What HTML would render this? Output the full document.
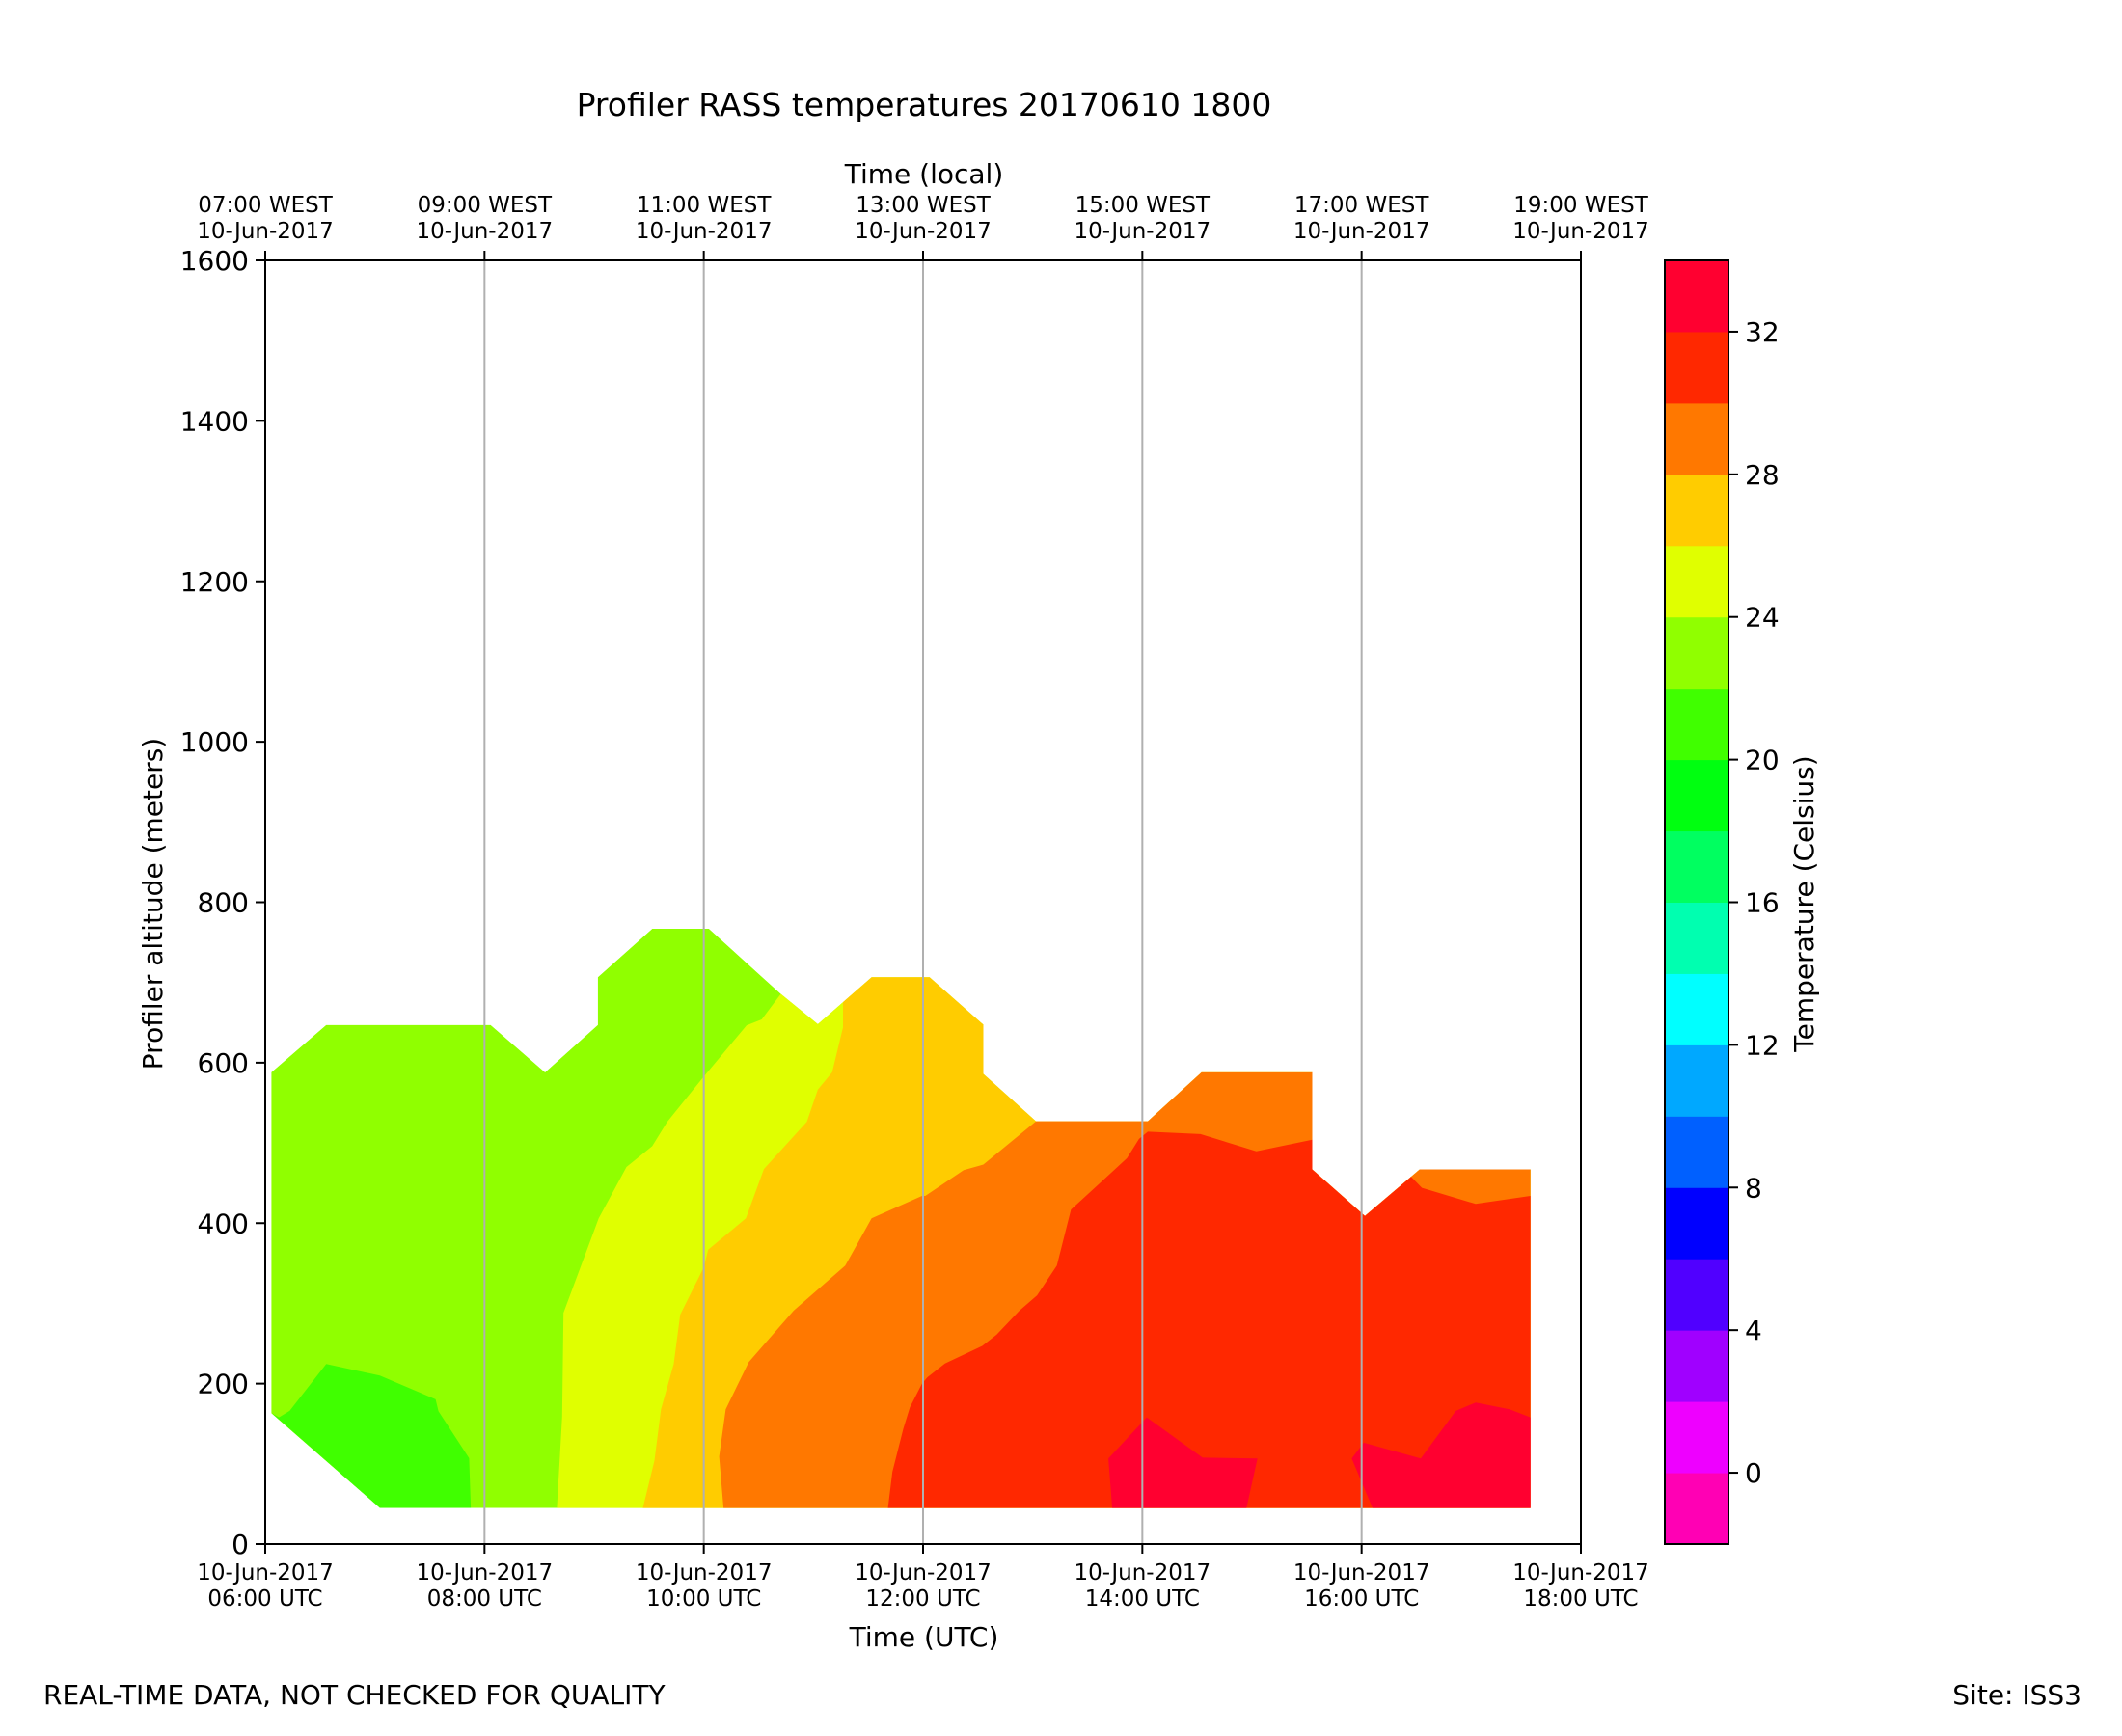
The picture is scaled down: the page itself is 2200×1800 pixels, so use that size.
<!DOCTYPE html>
<html><head><meta charset="utf-8">
<style>
html,body{margin:0;padding:0;background:#fff;}
svg{display:block;font-family:"DejaVu Sans","Liberation Sans",sans-serif;}
</style></head>
<body>
<svg id="chart" width="2200" height="1800" viewBox="0 0 2200 1800" xmlns="http://www.w3.org/2000/svg">
<rect width="2200" height="1800" fill="#fff"/>
<text x="958" y="120" font-size="33" text-anchor="middle">Profiler RASS temperatures 20170610 1800</text>
<text x="958" y="190" font-size="28" text-anchor="middle">Time (local)</text>
<text x="958" y="1707" font-size="28" text-anchor="middle">Time (UTC)</text>
<text transform="translate(168,937) rotate(-90)" font-size="28" text-anchor="middle">Profiler altitude (meters)</text>
<text transform="translate(1880,937) rotate(-90)" font-size="28" text-anchor="middle">Temperature (Celsius)</text>
<text x="45" y="1767" font-size="28">REAL-TIME DATA, NOT CHECKED FOR QUALITY</text>
<text x="2158" y="1767" font-size="28" text-anchor="end">Site: ISS3</text>
<defs><clipPath id="hullclip"><path id="hullpath" d=""/></clipPath></defs>
<g id="fills" clip-path="url(#hullclip)"></g>
<g id="grid"></g>
<g id="axes"></g>
<g id="cbar"></g>
</svg>
<script>
// ---- data (hours UTC, altitude m) ----
const hullPts = [[6.055,588],[6.556,647],[8.055,647],[8.552,588],[9.033,647],[9.033,706.5],[9.53,767],[10.047,767],[10.70,686],[11.04,648],[11.53,706.5],[12.06,706.5],[12.55,647.5],[12.55,586],[13.03,527],[14.05,527],[14.54,588],[15.55,588],[15.55,467],[16.03,409],[16.53,467],[17.54,467],[17.54,45],[7.045,45],[6.055,163]];
const coldPatch = [[6.125,158],[6.223,166],[6.556,224.5],[7.045,210],[7.554,180.4],[7.58,165.6],[7.86,107],[7.875,45],[7.045,45],[6.06,163]];
const warm24 = [[10.705,686],[10.528,654],[10.391,646.6],[10.0,582.8],[9.667,526.4],[9.53,496],[9.295,470],[9.041,406],[8.72,288.3],[8.708,158.3],[8.66,45],[8.65,0],[18.5,0],[18.5,900],[10.705,900]];
const warm26 = [[11.27,676],[11.27,644],[11.17,588],[11.04,566.6],[10.94,526.4],[10.548,467.5],[10.384,406],[10.04,367],[10.0,345],[9.785,286],[9.726,224.5],[9.61,168],[9.55,104],[9.444,45],[9.44,0],[18.5,0],[18.5,900],[11.27,900]];
const warm28 = [[13.03,527],[12.55,473],[12.37,466],[12.02,434],[11.99,434],[11.53,406],[11.29,347],[10.82,291],[10.41,227],[10.2,168],[10.14,109],[10.18,45],[10.18,0],[18.5,0],[18.5,900],[13.03,900]];
const warm30 = [[11.66,0],[11.68,45],[11.72,90],[11.82,143.6],[11.88,170.6],[11.99,200],[12.04,208],[12.2,225],[12.54,247],[12.67,261],[12.88,291],[13.04,310],[13.22,347],[13.35,417],[13.725,464],[13.86,481],[13.97,505],[14.05,514],[14.53,511],[15.04,489.6],[15.55,504],[15.56,650],[16.40,650],[16.45,458],[16.55,444],[17.04,424],[17.54,434],[18.5,434],[18.5,0]];
const warm32a = [[13.69,106.7],[14.04,158],[14.55,107.7],[15.05,106.7],[14.95,45],[14.94,0],[13.72,0],[13.725,45]];
const warm32b = [[15.91,106.7],[16.02,126.4],[16.54,106.7],[16.86,166],[17.04,176.5],[17.35,168],[17.54,158],[18.5,158],[18.5,0],[16.12,0],[16.1,45]];
const xTicks = [6,8,10,12,14,16,18];
const utcLabels = ["06:00 UTC","08:00 UTC","10:00 UTC","12:00 UTC","14:00 UTC","16:00 UTC","18:00 UTC"];
const localLabels = ["07:00 WEST","09:00 WEST","11:00 WEST","13:00 WEST","15:00 WEST","17:00 WEST","19:00 WEST"];
const yTicks = [0,200,400,600,800,1000,1200,1400,1600];
const cbLevels = [-2,0,2,4,6,8,10,12,14,16,18,20,22,24,26,28,30,32,34];
const cbColors = ["#ff00b4","#ee00ff","#a000ff","#5000ff","#0000ff","#0060ff","#00a8ff","#00ffff","#00ffb0","#00ff60","#00ff10","#40ff00","#90ff00","#e0ff00","#ffcc00","#ff7800","#ff2800","#ff0030"];
const cbTicks = [0,4,8,12,16,20,24,28,32];

// ---- layout ----
const L=275,R=1639,T=270,B=1601;
const X=h=>L+(h-6)/12*(R-L);
const Y=a=>B-a/1600*(B-T);
const CL=1726,CR=1792;
const CY=v=>B-(v+2)/36*(B-T);
const NS="http://www.w3.org/2000/svg";
function mk(tag,attrs,parent){const e=document.createElementNS(NS,tag);for(const k in attrs)e.setAttribute(k,attrs[k]);parent.appendChild(e);return e;}
const d=pts=>"M"+pts.map(p=>X(p[0]).toFixed(1)+","+Y(p[1]).toFixed(1)).join("L")+"Z";

document.getElementById("hullpath").setAttribute("d",d(hullPts));
const fills=document.getElementById("fills");
const layers=[[hullPts,"#90ff00","band-22-24"],[coldPatch,"#40ff00","band-20-22"],[warm24,"#e0ff00","band-24-26"],[warm26,"#ffcc00","band-26-28"],[warm28,"#ff7800","band-28-30"],[warm30,"#ff2800","band-30-32"],[warm32a,"#ff0030","band-32-34-a"],[warm32b,"#ff0030","band-32-34-b"]];
layers.forEach(ly=>{
  const p=mk("path",{d:d(ly[0]),fill:ly[1]},fills);
  
  
});

const grid=document.getElementById("grid");
const axes=document.getElementById("axes");
xTicks.forEach((h,i)=>{
  const x=X(h);
  if(i>0&&i<xTicks.length-1){
    const g=mk("line",{x1:x,x2:x,y1:T,y2:B,stroke:"#b0b0b0","stroke-width":2},grid);
    
    
  }
  mk("line",{x1:x,x2:x,y1:B,y2:B+10,stroke:"#000","stroke-width":2},axes);
  mk("line",{x1:x,x2:x,y1:T,y2:T-10,stroke:"#000","stroke-width":2},axes);
  const t1=mk("text",{x:x,y:1638,"font-size":23,"text-anchor":"middle"},axes);t1.textContent="10-Jun-2017";
  
  
  const t2=mk("text",{x:x,y:1665,"font-size":23,"text-anchor":"middle"},axes);t2.textContent=utcLabels[i];
  
  
  const t3=mk("text",{x:x,y:220,"font-size":23,"text-anchor":"middle"},axes);t3.textContent=localLabels[i];
  
  
  const t4=mk("text",{x:x,y:247,"font-size":23,"text-anchor":"middle"},axes);t4.textContent="10-Jun-2017";
  
  
});
yTicks.forEach(v=>{
  const y=Y(v);
  mk("line",{x1:L-10,x2:L,y1:y,y2:y,stroke:"#000","stroke-width":2},axes);
  const t=mk("text",{x:L-17,y:y+10,"font-size":28,"text-anchor":"end"},axes);t.textContent=v;
  
  
});
const frame=mk("rect",{x:L,y:T,width:R-L,height:B-T,fill:"none",stroke:"#000","stroke-width":2},axes);



const cb=document.getElementById("cbar");
cbColors.forEach((c,i)=>{
  const r=mk("rect",{x:CL,y:CY(cbLevels[i+1]),width:CR-CL,height:CY(cbLevels[i])-CY(cbLevels[i+1])+0.5,fill:c},cb);
  
  
});
const cbf=mk("rect",{x:CL,y:T,width:CR-CL,height:B-T,fill:"none",stroke:"#000","stroke-width":2},cb);


cbTicks.forEach(v=>{
  const y=CY(v);
  mk("line",{x1:CR,x2:CR+10,y1:y,y2:y,stroke:"#000","stroke-width":2},cb);
  const t=mk("text",{x:CR+17,y:y+10,"font-size":28},cb);t.textContent=v;
  
  
});
</script>
</body></html>
